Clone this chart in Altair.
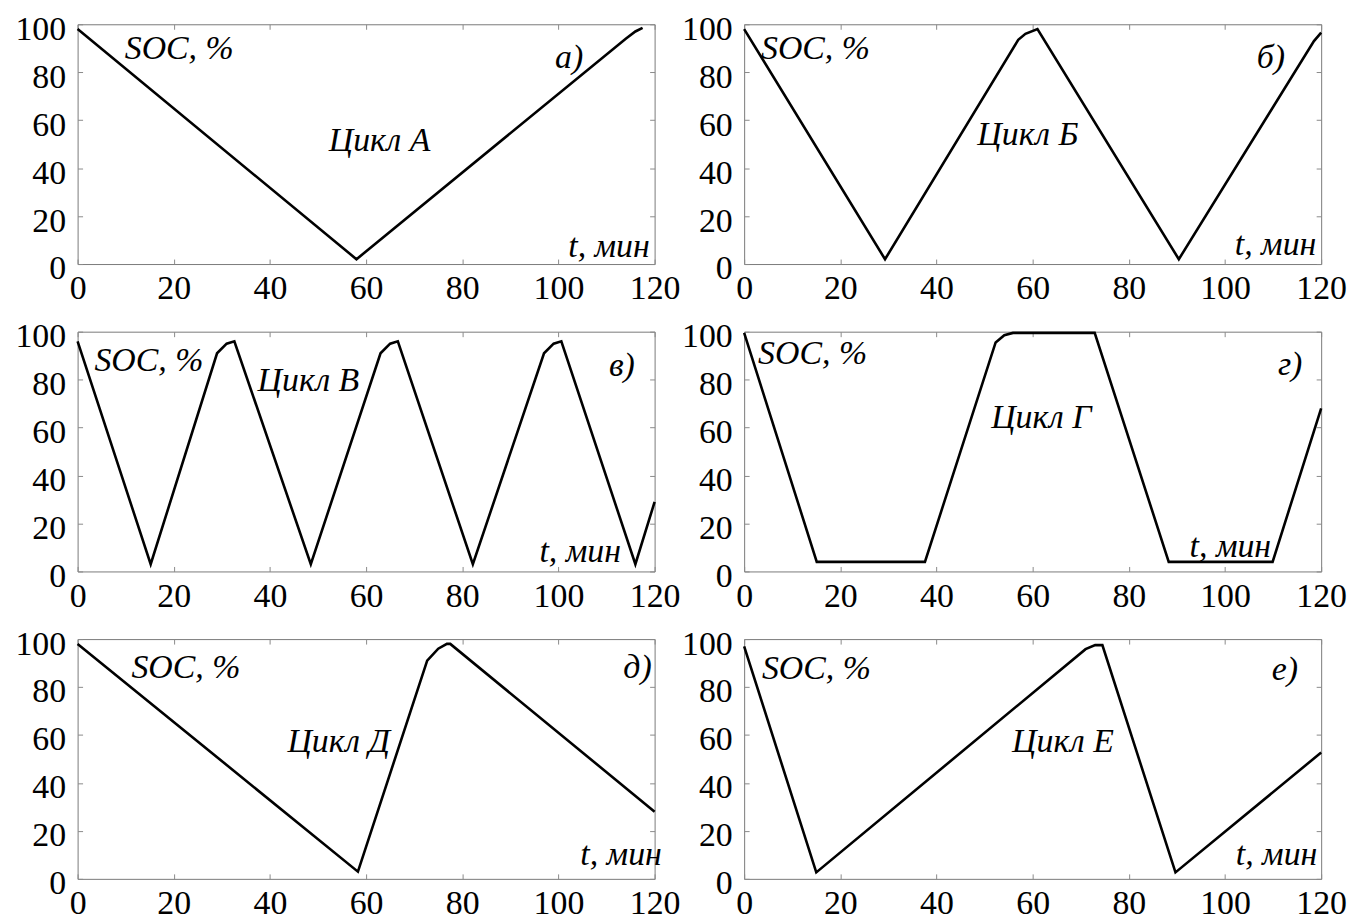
import altair as alt
import pandas as pd

# ---- data (t in minutes, SOC in %) ----
a_t = [0, 58, 114, 116, 117.5]
a_soc = [98, 2, 94, 97, 98.5]

b_t = [0, 29.3, 57, 58.5, 61, 90.4, 118.5, 120]
b_soc = [98, 2, 93.5, 96, 98, 2, 93, 96.5]

v_t = [0, 15.2, 29, 31, 32.6, 48.5, 63, 65, 66.6, 82.2, 97, 99, 100.6, 116, 120]
v_soc = [96, 3, 91, 95, 96, 3, 91, 95, 96, 3, 91, 95, 96, 3, 29]

g_t = [0, 15.1, 37.6, 52.3, 54.1, 55.9, 72.9, 88.3, 109.9, 120]
g_soc = [99.5, 4, 4, 95.5, 98.5, 99.5, 99.5, 4, 4, 68]

d_t = [0, 58.3, 72.7, 75, 76.8, 77.5, 120]
d_soc = [98, 3, 91, 96, 98, 98, 28]

e_t = [0, 15, 71, 73, 74.5, 89.7, 120]
e_soc = [97, 2.7, 95.8, 97.5, 97.5, 2.7, 52.7]

panel_letters = ["а)", "б)", "в)", "г)", "д)", "е)"]
cycle_names = ["Цикл А", "Цикл Б", "Цикл В", "Цикл Г", "Цикл Д", "Цикл Е"]

# annotation anchors (data coordinates)
soc_pos = [(9.8, 89.5), (3.5, 89.5), (3.5, 87.7), (2.9, 90.6), (11.2, 88), (3.7, 87.7)]
letter_pos = [(99.3, 86), (106.6, 86), (110.5, 85.6), (111, 86), (113.5, 88), (109.7, 86.9)]
cycle_pos = [(62.8, 51.5), (59, 54), (48, 79.5), (61.8, 64), (54.3, 57), (66.3, 57)]
tmin_pos = [(119, 7), (119, 8), (113, 8), (109.6, 10), (121.5, 10), (119.2, 10)]

series = [(a_t, a_soc), (b_t, b_soc), (v_t, v_soc), (g_t, g_soc), (d_t, d_soc), (e_t, e_soc)]

W, H = 580, 241
FONT = "Liberation Serif"
FS = 34


def txt(x, y, label, align):
    df = pd.DataFrame({"t": [x], "soc": [y], "label": [label]})
    return alt.Chart(df).mark_text(
        align=align, baseline="middle", font=FONT, fontSize=FS,
        fontStyle="italic", color="black"
    ).encode(
        x=alt.X("t:Q", title=None),
        y=alt.Y("soc:Q", title=None),
        text="label:N",
    )


panels = []
for i, (t, soc) in enumerate(series):
    df = pd.DataFrame({"t": t, "soc": soc})
    line = alt.Chart(df).mark_line(color="black", strokeWidth=2.6).encode(
        x=alt.X("t:Q", title=None,
                scale=alt.Scale(domain=[0, 120], nice=False, zero=False)),
        y=alt.Y("soc:Q", title=None,
                scale=alt.Scale(domain=[0, 100], nice=False)),
    )
    layers = [
        line,
        txt(soc_pos[i][0], soc_pos[i][1], "SOC, %", "left"),
        txt(letter_pos[i][0], letter_pos[i][1], panel_letters[i], "left"),
        txt(cycle_pos[i][0], cycle_pos[i][1], cycle_names[i], "center"),
        txt(tmin_pos[i][0], tmin_pos[i][1], "t, мин", "right"),
    ]
    panels.append(alt.layer(*layers).properties(width=W, height=H))

chart = alt.concat(
    *panels, columns=2, spacing={"row": 68, "column": 90}, bounds="flush"
).properties(
    padding={"left": 14, "top": 9, "right": 5, "bottom": 5}
).configure_view(
    stroke="#7a7a7a", strokeWidth=1
).configure_axis(
    labelFont=FONT, labelFontSize=FS, labelColor="black",
    domain=False, ticks=False, grid=True, gridColor="#8a8a8a", gridWidth=1,
    labelOverlap=False, labelFlush=False,
).configure_axisX(
    tickCount=7, labelPadding=8, gridDash=[5, H - 10, 5, 3000],
).configure_axisY(
    tickCount=5, labelPadding=12, labelOffset=5, gridDash=[5, W - 10, 5, 3000],
)

chart.save("out.html", embed_options={"renderer": "svg", "actions": False})
